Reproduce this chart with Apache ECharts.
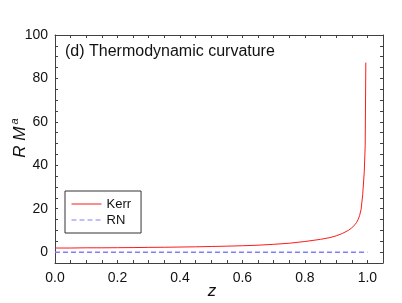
<!DOCTYPE html>
<html>
<head>
<meta charset="utf-8">
<script src="https://cdn.jsdelivr.net/npm/echarts@6/dist/echarts.min.js"></script>
<style>
html,body{margin:0;padding:0;background:#fff;}
#c{width:402px;height:303px;}
</style>
</head>
<body>
<div id="c"></div>
<script>
var kerrZ = [0, 0.05, 0.1, 0.15, 0.2, 0.25, 0.3, 0.35, 0.4, 0.45, 0.5, 0.55, 0.6, 0.65, 0.7, 0.75, 0.8, 0.85, 0.88, 0.9, 0.92, 0.94, 0.95, 0.96, 0.965, 0.97, 0.975, 0.98, 0.985, 0.99, 0.993, 0.995];
var kerrR = [1.9, 1.9, 2.0, 2.0, 2.05, 2.1, 2.2, 2.25, 2.35, 2.45, 2.6, 2.75, 2.95, 3.2, 3.6, 4.1, 4.9, 5.9, 6.7, 7.5, 8.6, 10.1, 11.2, 12.6, 13.6, 14.9, 16.8, 19.8, 26.5, 37, 49, 87.3];
var rnZ = [0, 1.0];
var rnR = [0, 0];
var xTickLabels = ['0.0', '0.2', '0.4', '0.6', '0.8', '1.0'];
var yTickLabels = ['0', '20', '40', '60', '80', '100'];

var FONT = 'Liberation Sans, Arial, sans-serif';
var AX = '#404040';
var RED = '#ff1a1a';
var BLUE = '#7f7fff';

function zip(a, b) { return a.map(function (v, i) { return [v, b[i]]; }); }

function xFmt(v) {
  var k = Math.round(v / 0.2);
  if (Math.abs(v - k * 0.2) < 1e-6) {
    var s = (k * 0.2).toFixed(1);
    return xTickLabels.indexOf(s) >= 0 ? s : '';
  }
  return '';
}
function yFmt(v) {
  var s = String(Math.round(v));
  if (Math.abs(v % 20) < 1e-6 && yTickLabels.indexOf(s) >= 0) return s;
  return '';
}

var chart = echarts.init(document.getElementById('c'), null, {renderer: 'canvas'});
var baseAxis = {
  axisLine: {show: true, onZero: false, lineStyle: {color: AX, width: 1}},
  axisTick: {show: true, inside: true, length: 3, lineStyle: {color: AX}},
  splitLine: {show: false}
};
chart.setOption({
  animation: false,
  backgroundColor: '#fff',
  grid: {left: 55, right: 19, top: 35, bottom: 40, containLabel: false},
  xAxis: [
    Object.assign({}, baseAxis, {
      type: 'value', min: 0, max: 1.05, interval: 0.05, position: 'bottom',
      axisLabel: {formatter: xFmt, fontFamily: FONT, fontSize: 14, color: '#111', margin: 8, showMaxLabel: true, showMinLabel: true}
    }),
    Object.assign({}, baseAxis, {
      type: 'value', min: 0, max: 1.05, interval: 0.05, position: 'top',
      axisLabel: {show: false}
    })
  ],
  yAxis: [
    Object.assign({}, baseAxis, {
      type: 'value', min: -5, max: 100, interval: 5, position: 'left',
      axisLabel: {formatter: yFmt, fontFamily: FONT, fontSize: 14, color: '#111', margin: 7, showMaxLabel: true, showMinLabel: true}
    }),
    Object.assign({}, baseAxis, {
      type: 'value', min: -5, max: 100, interval: 5, position: 'right',
      axisLabel: {show: false}
    })
  ],
  legend: {
    left: 65, top: 191,
    orient: 'vertical',
    itemWidth: 30, itemHeight: 4, itemGap: 3,
    padding: [6.5, 10, 6.5, 6],
    borderColor: '#333', borderWidth: 1,
    backgroundColor: '#fff',
    itemStyle: {opacity: 0},
    lineStyle: {width: 1},
    textStyle: {fontFamily: FONT, fontSize: 13, color: '#111', lineHeight: 13},
    data: ['Kerr', 'RN']
  },
  graphic: [
    {type: 'text', x: 65, y: 52, style: {text: '(d) Thermodynamic curvature', font: '16px ' + FONT, fill: '#111', textVerticalAlign: 'middle'}},
    {type: 'text', x: 212, y: 291, style: {text: 'z', font: 'italic 17px ' + FONT, fill: '#111', textAlign: 'center', textVerticalAlign: 'middle'}},
    {type: 'text', x: 20, y: 138, rotation: Math.PI / 2,
      style: {text: '{m|R M}{s|a}', textAlign: 'center', textVerticalAlign: 'middle', fill: '#111',
        rich: {m: {fontFamily: FONT, fontStyle: 'italic', fontSize: 17, fill: '#111'},
               s: {fontFamily: FONT, fontStyle: 'italic', fontSize: 11, fill: '#111', padding: [0, 0, 10, 2]}}}}
  ],
  series: [
    {name: 'Kerr', type: 'line', data: zip(kerrZ, kerrR), symbol: 'none', smooth: false, color: RED,
      lineStyle: {color: RED, width: 1}, itemStyle: {color: RED}, clip: true},
    {name: 'RN', type: 'line', data: zip(rnZ, rnR), symbol: 'none', color: BLUE,
      lineStyle: {color: BLUE, width: 1.5, type: [5, 3]}, itemStyle: {color: BLUE}}
  ]
});
</script>
</body>
</html>
